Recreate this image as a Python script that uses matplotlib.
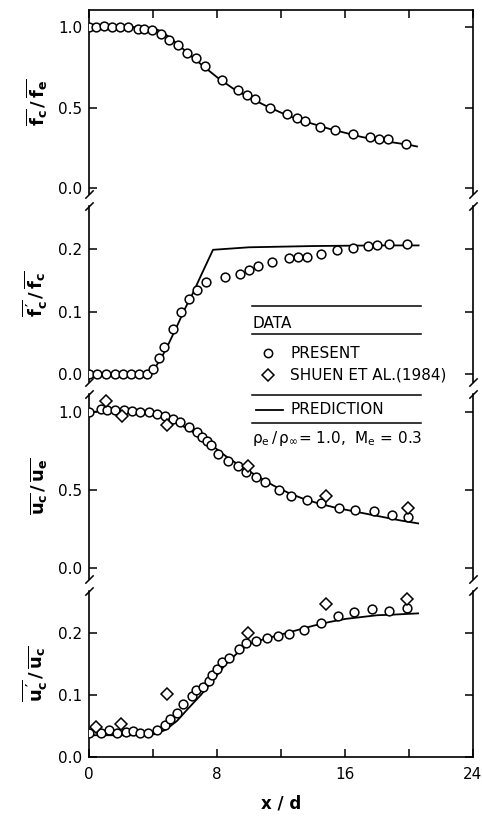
import numpy as np
import matplotlib
matplotlib.use('Agg')
import matplotlib.pyplot as plt
from matplotlib.lines import Line2D

plt.rcParams['font.family'] = 'DejaVu Sans'
plt.rcParams['mathtext.default'] = 'regular'

# ---- data ----
# panel 1: mean mixture fraction on axis
x_f = [0.0, 0.43, 0.92, 1.44, 1.95, 2.46, 3.04, 3.41, 3.92, 4.47, 4.98, 5.54, 6.15, 6.67, 7.24,
       8.33, 9.29, 9.87, 10.36, 11.34, 12.37, 12.98, 13.5, 14.46, 15.4, 16.47, 17.54, 18.1, 18.67, 19.8]
f_mean = [1.0, 1.0, 1.01, 1.0, 1.0, 1.0, 0.99, 0.99, 0.983, 0.957, 0.92, 0.89, 0.84, 0.81, 0.76,
          0.67, 0.61, 0.58, 0.555, 0.50, 0.46, 0.434, 0.42, 0.38, 0.36, 0.34, 0.317, 0.306, 0.306, 0.275]
xp_f = [0, 3, 4, 4.5, 5, 6, 7, 8, 9, 10, 11, 12, 13, 14, 15, 16, 17, 18, 19, 20, 20.5]
fp_mean = [1.0, 1.0, 0.995, 0.975, 0.94, 0.855, 0.77, 0.69, 0.62, 0.565, 0.515, 0.47, 0.43, 0.40,
           0.37, 0.345, 0.32, 0.30, 0.285, 0.27, 0.26]

# panel 2: mixture fraction fluctuations
x_ff = [0.0, 0.51, 1.05, 1.6, 2.11, 2.63, 3.14, 3.61, 4.0, 4.37, 4.68, 5.23, 5.74, 6.28, 6.77, 7.3,
        8.47, 9.43, 10.01, 10.56, 11.45, 12.51, 13.09, 13.6, 14.52, 15.49, 16.47, 17.46, 18.01, 18.77, 19.86]
f_rms = [0.0, 0.0, 0.0, 0.0, 0.0, 0.0, 0.0, 0.0, 0.008, 0.026, 0.044, 0.073, 0.10, 0.12, 0.135, 0.148,
         0.156, 0.160, 0.167, 0.173, 0.179, 0.186, 0.187, 0.187, 0.193, 0.199, 0.202, 0.205, 0.206, 0.208, 0.208]
xp_ff = [0, 3.6, 4.0, 4.5, 5, 5.5, 6, 6.5, 7, 7.75, 10, 14, 18, 20.6]
fp_rms = [0.0, 0.0, 0.006, 0.025, 0.05, 0.077, 0.105, 0.13, 0.158, 0.199, 0.203, 0.205, 0.206, 0.206]

# panel 3: mean velocity on axis
x_u = [0.0, 0.74, 1.15, 1.6, 2.17, 2.67, 3.2, 3.75, 4.27, 4.74, 5.25, 5.7, 6.28, 6.73, 7.04, 7.38, 7.65,
       8.06, 8.68, 9.29, 9.8, 10.42, 11.03, 11.86, 12.64, 13.6, 14.52, 15.65, 16.63, 17.8, 18.93, 19.92]
u_mean = [1.0, 1.02, 1.01, 1.01, 1.01, 1.005, 1.0, 0.995, 0.985, 0.975, 0.953, 0.932, 0.90, 0.868, 0.84,
          0.813, 0.787, 0.728, 0.685, 0.653, 0.617, 0.585, 0.549, 0.50, 0.462, 0.436, 0.419, 0.383, 0.372,
          0.366, 0.34, 0.33]
x_u_shuen = [1.09, 2.05, 4.88, 9.95, 14.83, 19.92]
u_mean_shuen = [1.068, 0.975, 0.915, 0.653, 0.462, 0.383]
xp_u = [0, 2, 3.5, 4.5, 5.5, 6.5, 7.5, 8.5, 9.5, 10.5, 11.5, 12.5, 13.5, 14.5, 15.5, 16.5, 17.5, 18.5,
        19.5, 20.57]
up_mean = [1.0, 1.0, 0.995, 0.97, 0.93, 0.87, 0.80, 0.72, 0.65, 0.59, 0.53, 0.48, 0.44, 0.41, 0.385,
           0.365, 0.345, 0.325, 0.305, 0.287]

# panel 4: velocity fluctuations on axis
x_uu = [0.0, 0.74, 1.23, 1.76, 2.32, 2.73, 3.2, 3.69, 4.23, 4.78, 5.05, 5.5, 5.9, 6.46, 6.69, 7.1, 7.5,
        7.71, 8.0, 8.33, 8.72, 9.35, 9.8, 10.42, 11.1, 11.8, 12.47, 13.44, 14.52, 15.55, 16.57, 17.66,
        18.73, 19.86]
u_rms = [0.039, 0.039, 0.043, 0.039, 0.041, 0.042, 0.039, 0.039, 0.043, 0.051, 0.061, 0.07, 0.086, 0.098,
         0.107, 0.112, 0.122, 0.132, 0.141, 0.152, 0.159, 0.173, 0.183, 0.187, 0.191, 0.194, 0.198, 0.205,
         0.215, 0.227, 0.234, 0.238, 0.235, 0.239]
x_uu_shuen = [0.41, 2.01, 4.88, 9.91, 14.83, 19.86]
u_rms_shuen = [0.049, 0.053, 0.102, 0.199, 0.246, 0.254]
xp_uu = [0, 3.5, 4.2, 4.8, 5.5, 6.2, 7, 7.8, 8.5, 9.3, 10, 11, 12, 13, 14, 15, 16, 17, 18, 19, 20.57]
up_rms = [0.035, 0.035, 0.037, 0.044, 0.058, 0.078, 0.10, 0.125, 0.148, 0.168, 0.182, 0.19, 0.197, 0.204,
          0.211, 0.217, 0.222, 0.225, 0.228, 0.229, 0.231]

x_ticks = [0, 4, 8, 12, 16, 20, 24]
x_ticklabels = ['0', '', '8', '', '16', '', '24']

# ---- layout (pixels) ----
W, H = 482, 816
LEFT, RIGHT = 89, 473


def fx(x):
    return x / W


def fy(y):
    return 1 - y / H


def rect(top, bottom):
    return [fx(LEFT), fy(bottom), (RIGHT - LEFT) / W, (bottom - top) / H]


fig = plt.figure(figsize=(W / 100, H / 100), dpi=100)

panels = [
    dict(box=(10, 194), ylim=(-0.035, 1.107), yt=[0, 0.5, 1.0], fmt='%.1f',
         lab=r'$\overline{f_c}\,/\,\overline{f_e}$',
         circ=(x_f, f_mean), dia=None, pred=(xp_f, fp_mean)),
    dict(box=(206, 382), ylim=(-0.0123, 0.269), yt=[0, 0.1, 0.2], fmt='%.1f',
         lab=r"$\overline{f_c^{\,\prime}}\,/\,\overline{f_c}$",
         circ=(x_ff, f_rms), dia=None, pred=(xp_ff, fp_rms)),
    dict(box=(394, 579), ylim=(-0.068, 1.113), yt=[0, 0.5, 1.0], fmt='%.1f',
         lab=r'$\overline{u_c}\,/\,\overline{u_e}$',
         circ=(x_u, u_mean), dia=(x_u_shuen, u_mean_shuen), pred=(xp_u, up_mean)),
    dict(box=(591, 757), ylim=(0.0, 0.267), yt=[0, 0.1, 0.2], fmt='%.1f',
         lab=r"$\overline{u_c^{\,\prime}}\,/\,\overline{u_c}$",
         circ=(x_uu, u_rms), dia=(x_uu_shuen, u_rms_shuen), pred=(xp_uu, up_rms)),
]

brk = dict(marker=[(-1, -1), (1, 1)], markersize=6, linestyle='none', color='k',
           mec='k', mew=1.1, clip_on=False)

axes = []
for i, p in enumerate(panels):
    ax = fig.add_axes(rect(*p['box']))
    axes.append(ax)
    ax.plot(p['pred'][0], p['pred'][1], color='k', lw=1.3, zorder=2)
    ax.plot(p['circ'][0], p['circ'][1], 'o', ms=6.3, mfc='white', mec='k', mew=1.1, zorder=3)
    if p['dia'] is not None:
        ax.plot(p['dia'][0], p['dia'][1], 'D', ms=6, mfc='white', mec='k', mew=1.1, zorder=4)
    ax.set_xlim(0, 24)
    ax.set_ylim(*p['ylim'])
    ax.set_yticks(p['yt'])
    ax.set_yticklabels([p['fmt'] % v for v in p['yt']])
    ax.tick_params(axis='y', direction='in', left=True, right=True, length=5.5, width=1.1,
                   pad=5, labelsize=11)
    ax.set_ylabel(p['lab'], fontsize=13, fontweight='bold')
    ax.yaxis.set_label_coords(-0.105, 0.5)
    for s in ['left', 'right']:
        ax.spines[s].set_linewidth(1.2)
    ax.spines['top'].set_visible(i == 0)
    ax.spines['bottom'].set_visible(i == 3)
    ax.spines['top'].set_linewidth(1.2)
    ax.spines['bottom'].set_linewidth(1.2)
    ax.set_xticks(x_ticks)
    if i == 0:
        ax.tick_params(axis='x', direction='in', top=True, bottom=False, labelbottom=False,
                       length=5.5, width=1.1)
    elif i == 3:
        ax.set_xticklabels(x_ticklabels)
        ax.tick_params(axis='x', direction='in', top=False, bottom=True, length=5.5, width=1.1,
                       pad=7, labelsize=11)
        ax.set_xlabel('x / d', fontsize=12, fontweight='bold', labelpad=9)
    else:
        ax.tick_params(axis='x', top=False, bottom=False, labelbottom=False)
    # break marks
    if i < 3:
        ax.plot([0, 1], [0, 0], transform=ax.transAxes, **brk)
    if i > 0:
        ax.plot([0, 1], [1, 1], transform=ax.transAxes, **brk)

# ---- hand-drawn style key ----
def hline(y, x0=252, x1=421):
    fig.add_artist(Line2D([fx(x0), fx(x1)], [fy(y), fy(y)], color='k', lw=1.1))


hline(306)
fig.text(fx(252), fy(324), 'DATA', ha='left', va='center', fontsize=11)
hline(334)
fig.add_artist(Line2D([fx(268)], [fy(353)], marker='o', ms=6, mfc='white', mec='k', mew=1.1))
fig.text(fx(290), fy(353), 'PRESENT', ha='left', va='center', fontsize=11)
fig.add_artist(Line2D([fx(268)], [fy(375)], marker='D', ms=6, mfc='white', mec='k', mew=1.1))
fig.text(fx(290), fy(375), 'SHUEN ET AL.(1984)', ha='left', va='center', fontsize=11)
hline(395)
fig.add_artist(Line2D([fx(256), fx(283)], [fy(410), fy(410)], color='k', lw=1.3))
fig.text(fx(291), fy(410), 'PREDICTION', ha='left', va='center', fontsize=11)
hline(423)
fig.text(fx(252), fy(438), r'$\rho_e\,/\,\rho_\infty$= 1.0,  M$_e$ = 0.3', ha='left', va='center',
         fontsize=11)

fig.savefig('out.png', dpi=100)
